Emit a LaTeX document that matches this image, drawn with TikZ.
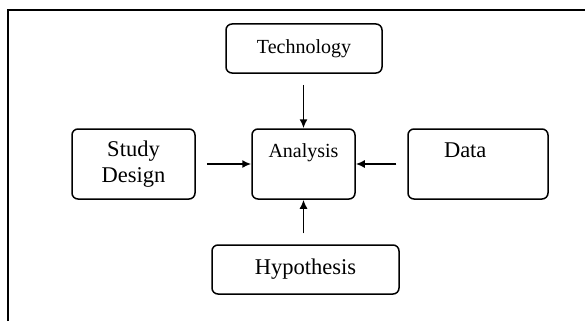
\documentclass[tikz,border=0pt]{standalone}
\usepackage{fontspec}
\setmainfont{Liberation Serif}
\usepackage{tikz}
\usetikzlibrary{arrows.meta}
\tikzset{box/.style = {draw, rounded corners = 6pt, line width = 1.5pt, inner sep = 0, align = center},
  feed/.style = {->, line width = 1.6pt, shorten < = 11pt}}

\begin{document}
\begin{tikzpicture}[x=1pt, y=-1pt, >={Latex[length=9pt, width=8pt]}]
    \useasboundingbox (0, 0) rectangle (585, 321);

    \draw [line width = 2.5pt] (8, 321) -- (8, 10) -- (585, 10);

    \node [box, font = \fontsize{20}{23}\selectfont, minimum width = 103, text height = 28, text depth = 42] (analysis) at (303.5, 164) {Analysis};
    \node [box, font = \fontsize{20}{23}\selectfont, minimum width = 156, minimum height = 49] (tech) at (304, 48.5) {Technology};
    \node [box, font = \fontsize{22.5}{26}\selectfont, minimum width = 123, minimum height = 70] (design) at (133.5, 164) {Study\\Design};
    \node [box, font = \fontsize{22.5}{26}\selectfont, text width = 140, align = left, text height = 28, text depth = 42] (data) at (478, 164) {\hspace*{36pt}Data};
    \node [box, font = \fontsize{22.5}{26}\selectfont, minimum width = 187, minimum height = 49] (hyp) at (305.5, 269.5) {Hypothesis};

    \draw [feed] (tech.south -| analysis) -- (analysis.north);
    \draw [feed] (design) -- (analysis);
    \draw [feed] (data) -- (analysis);
    \draw [feed] (hyp.north -| analysis) -- (analysis.south);

  \end{tikzpicture}
\end{document}
